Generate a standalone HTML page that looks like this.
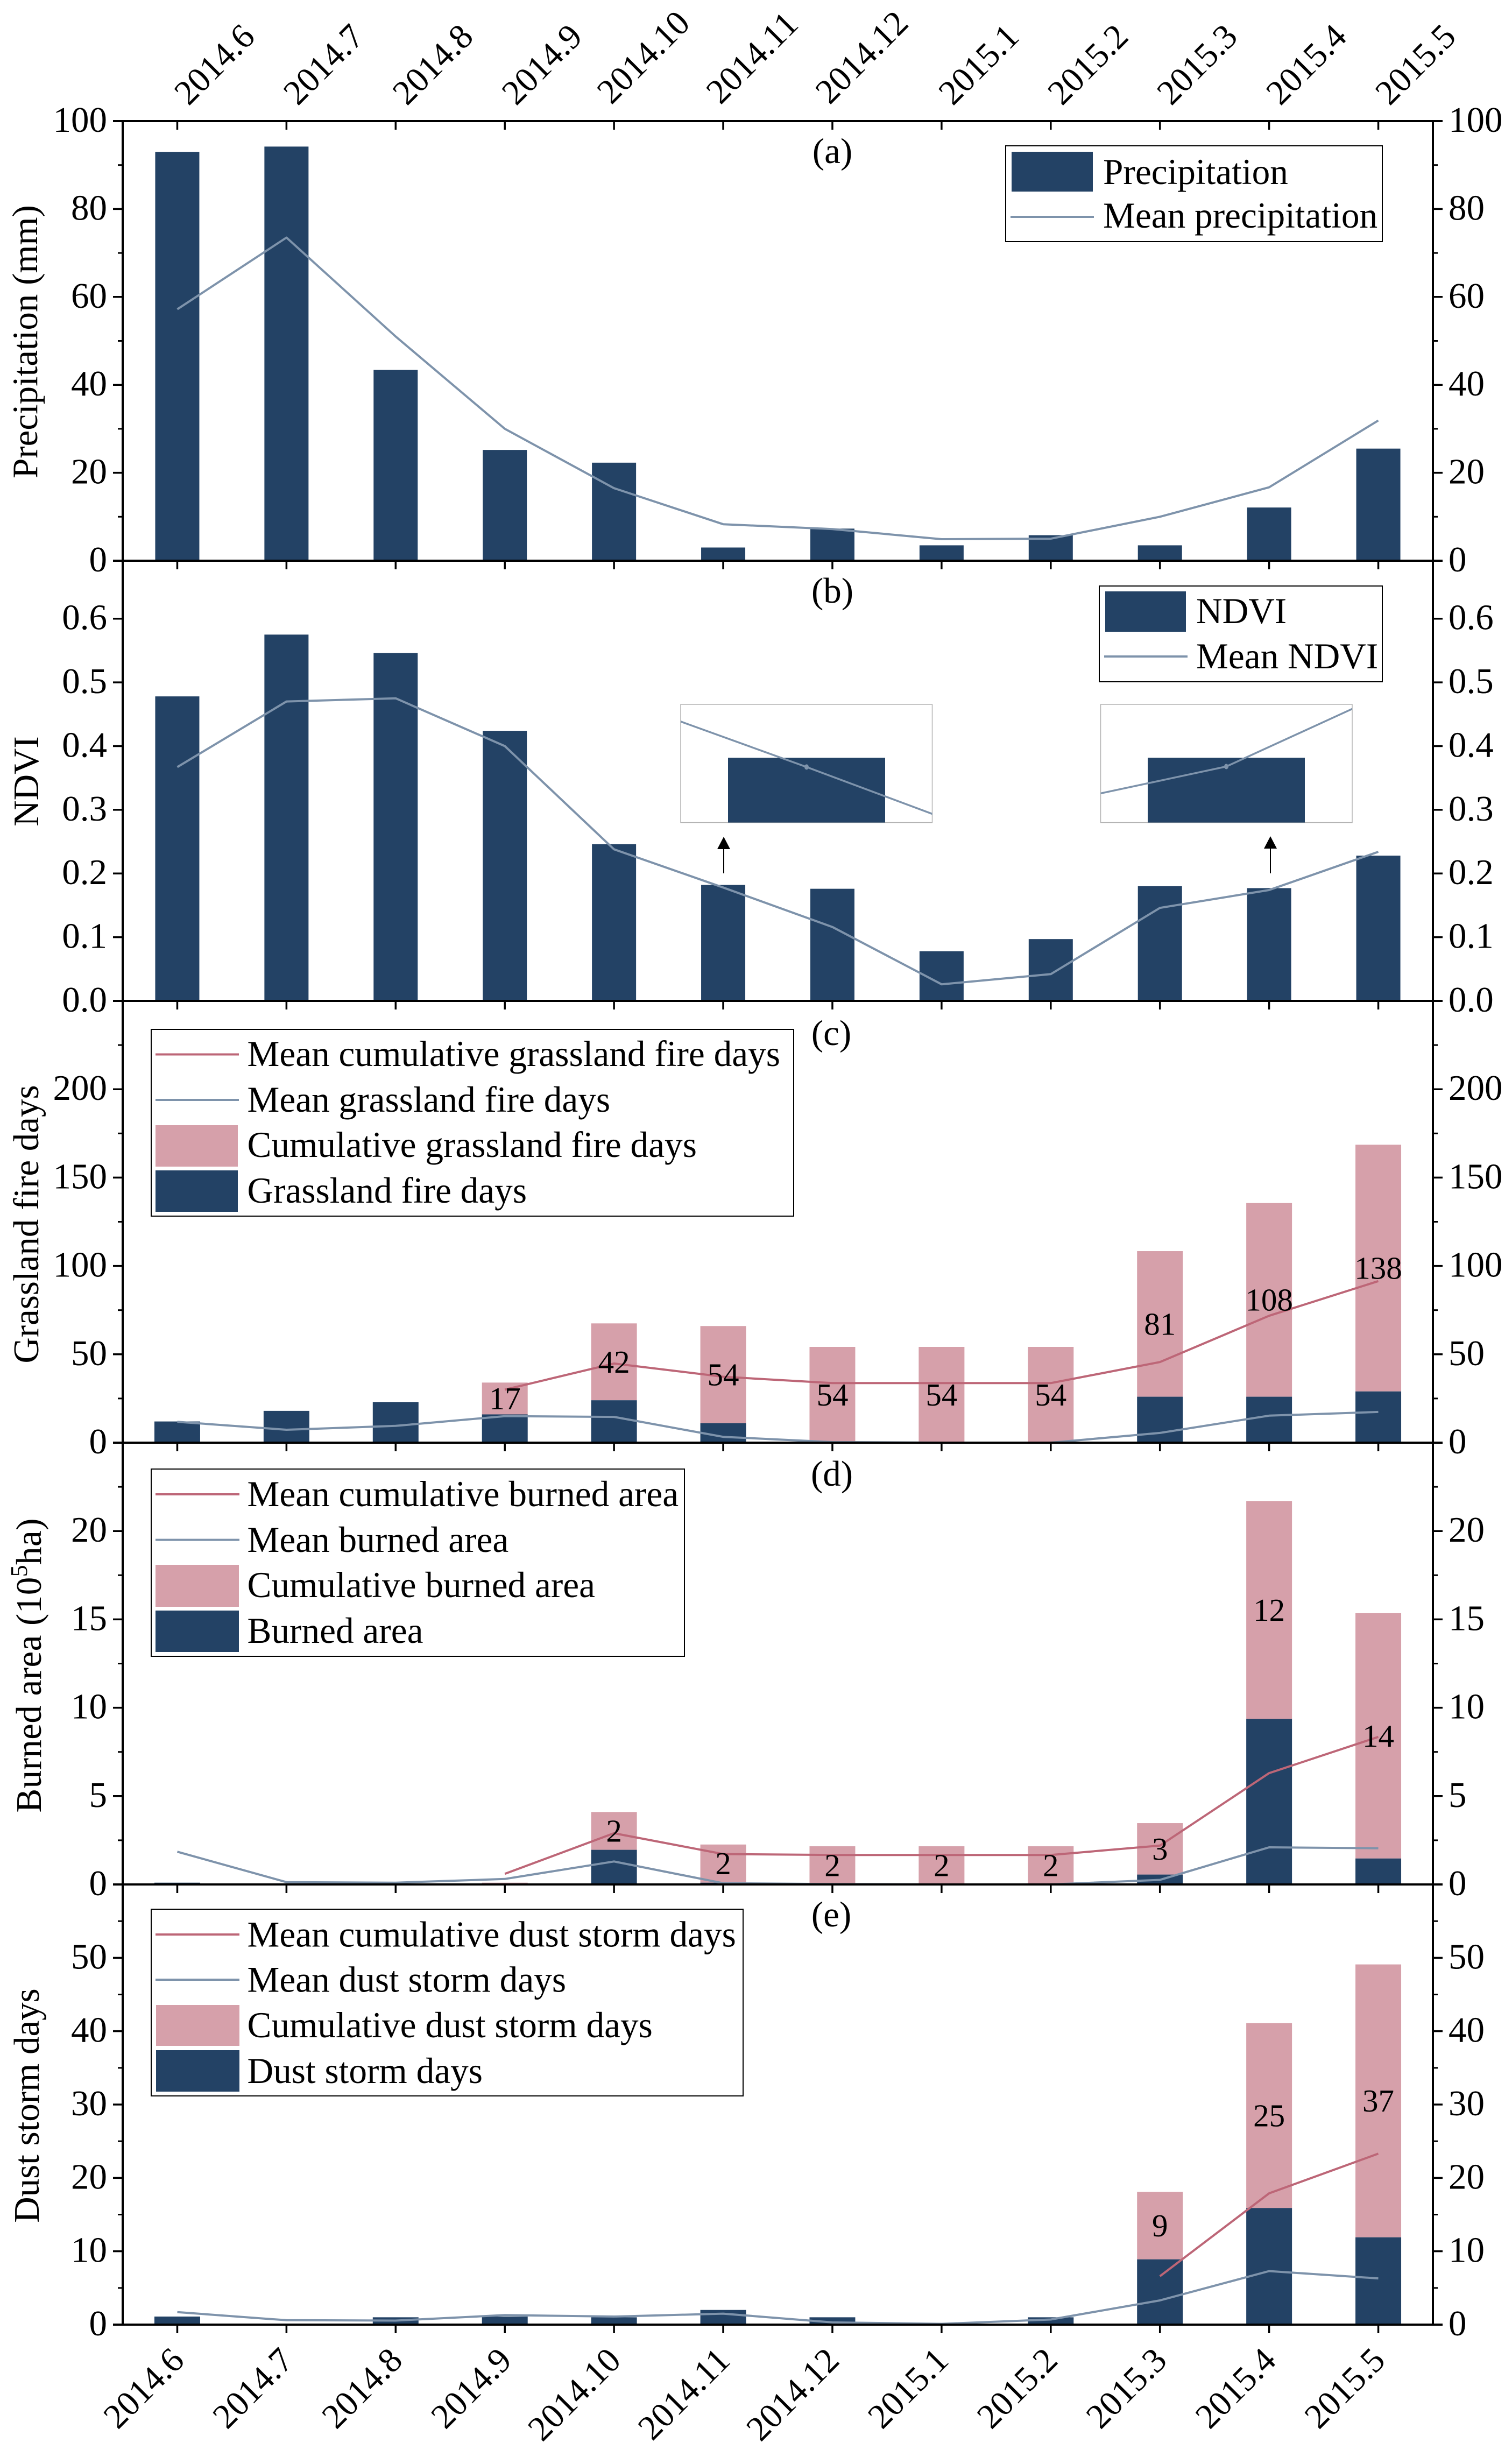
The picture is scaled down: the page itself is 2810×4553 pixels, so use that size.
<!DOCTYPE html>
<html lang="en">
<head>
<meta charset="utf-8">
<title>Monthly precipitation, NDVI, grassland fire, burned area and dust storm charts</title>
<style>
html,body{margin:0;padding:0;background:#fff;}
svg{display:block;}
text{font-family:"Liberation Serif",serif;fill:#000;}
</style>
</head>
<body>
<svg id="chart" xmlns="http://www.w3.org/2000/svg" width="2810" height="4553" viewBox="0 0 2810 4553">
  <rect x="0" y="0" width="2810" height="4553" fill="#fff"/>
  <g id="panel-a"></g>
  <g id="panel-b"></g>
  <g id="panel-c"></g>
  <g id="panel-d"></g>
  <g id="panel-e"></g>
  <g id="insets"></g>
  <g id="axes"></g>

  <g font-size="67">
    <text transform="translate(69 635) rotate(-90)" text-anchor="middle">Precipitation (mm)</text>
    <text transform="translate(71 1452) rotate(-90)" text-anchor="middle">NDVI</text>
    <text transform="translate(71 2275) rotate(-90)" text-anchor="middle">Grassland fire days</text>
    <text transform="translate(76 3095) rotate(-90)" text-anchor="middle" textLength="547">Burned area (10<tspan font-size="44" dy="-26">5</tspan><tspan dy="26">ha)</tspan></text>
    <text transform="translate(72 3913) rotate(-90)" text-anchor="middle">Dust storm days</text>
  </g>

  <g font-size="67" text-anchor="middle">
    <text x="1547" y="303">(a)</text>
    <text x="1547" y="1120">(b)</text>
    <text x="1545" y="1942">(c)</text>
    <text x="1546" y="2761">(d)</text>
    <text x="1545" y="3580">(e)</text>
  </g>

  <g>
    <line x1="1345" y1="1623" x2="1345" y2="1570" stroke="#000" stroke-width="2"/>
    <polygon points="1345,1555 1357,1578 1333,1578" fill="#000"/>
  </g>
  <g>
    <line x1="2361" y1="1623" x2="2361" y2="1570" stroke="#000" stroke-width="2"/>
    <polygon points="2361,1554 2373,1577 2349,1577" fill="#000"/>
  </g>

  <g font-size="67.3">
    <rect x="1869" y="271" width="700" height="178" fill="#fff" stroke="#000" stroke-width="2"/>
    <rect x="1880" y="282" width="151" height="74" fill="#234265"/>
    <text x="2050" y="342">Precipitation</text>
    <line x1="1878" y1="403" x2="2033" y2="403" stroke="#7e93ab" stroke-width="4"/>
    <text x="2050" y="423">Mean precipitation</text>
  </g>

  <g font-size="67.3">
    <rect x="2043" y="1089" width="526" height="178" fill="#fff" stroke="#000" stroke-width="2"/>
    <rect x="2054" y="1099" width="150" height="75" fill="#234265"/>
    <text x="2223" y="1158">NDVI</text>
    <line x1="2052" y1="1220" x2="2207" y2="1220" stroke="#7e93ab" stroke-width="4"/>
    <text x="2223" y="1242">Mean NDVI</text>
  </g>

  <g font-size="67.3">
    <rect x="281" y="1913" width="1194" height="347" fill="#fff" stroke="#000" stroke-width="2"/>
    <line x1="289" y1="1959.5" x2="444" y2="1959.5" stroke="#bd6677" stroke-width="4"/>
    <text x="459.5" y="1981">Mean cumulative grassland fire days</text>
    <line x1="289" y1="2044" x2="444" y2="2044" stroke="#7e93ab" stroke-width="4"/>
    <text x="459.5" y="2066">Mean grassland fire days</text>
    <rect x="289" y="2091" width="153" height="77" fill="#d6a0aa"/>
    <text x="459.5" y="2150">Cumulative grassland fire days</text>
    <rect x="289" y="2175" width="153" height="77" fill="#234265"/>
    <text x="459.5" y="2235">Grassland fire days</text>
  </g>

  <g font-size="67.3">
    <rect x="281" y="2730" width="991" height="348" fill="#fff" stroke="#000" stroke-width="2"/>
    <line x1="289" y1="2777" x2="445" y2="2777" stroke="#bd6677" stroke-width="4"/>
    <text x="459.5" y="2799">Mean cumulative burned area</text>
    <line x1="289" y1="2861.6" x2="445" y2="2861.6" stroke="#7e93ab" stroke-width="4"/>
    <text x="459.5" y="2884">Mean burned area</text>
    <rect x="289" y="2908" width="155" height="78" fill="#d6a0aa"/>
    <text x="459.5" y="2968">Cumulative burned area</text>
    <rect x="289" y="2993" width="155" height="77" fill="#234265"/>
    <text x="459.5" y="3053">Burned area</text>
  </g>

  <g font-size="67.3">
    <rect x="281" y="3548" width="1100" height="347" fill="#fff" stroke="#000" stroke-width="2"/>
    <line x1="289" y1="3595" x2="445" y2="3595" stroke="#bd6677" stroke-width="4"/>
    <text x="459.5" y="3617.5">Mean cumulative dust storm days</text>
    <line x1="289" y1="3679" x2="445" y2="3679" stroke="#7e93ab" stroke-width="4"/>
    <text x="459.5" y="3701.5">Mean dust storm days</text>
    <rect x="290" y="3726" width="155" height="76" fill="#d6a0aa"/>
    <text x="459.5" y="3786">Cumulative dust storm days</text>
    <rect x="290" y="3810" width="155" height="77" fill="#234265"/>
    <text x="459.5" y="3871">Dust storm days</text>
  </g>
</svg>

<script>
const categories = ['2014.6','2014.7','2014.8','2014.9','2014.10','2014.11','2014.12','2015.1','2015.2','2015.3','2015.4','2015.5'];

const precipValues = [93,94.2,43.4,25.2,22.3,3,7.3,3.5,5.8,3.5,12.1,25.5];
const precipMean = [57.2,73.5,51,30,16.5,8.3,7.2,4.9,5,10,16.7,31.9];
const precipTicks = ['0','20','40','60','80','100'];

const ndviValues = [0.478,0.575,0.546,0.424,0.246,0.182,0.176,0.078,0.097,0.18,0.177,0.228];
const ndviMean = [0.367,0.47,0.475,0.4,0.238,0.178,0.116,0.026,0.042,0.146,0.174,0.234];
const ndviTicks = ['0.0','0.1','0.2','0.3','0.4','0.5','0.6'];

const fireDays = [12,18,23,16,24,11,0,0,0,26,26,29];
const fireCumulative = [null,null,null,18,43.5,55,54.2,54.2,54.2,82.4,109.6,139.6];
const fireMean = [11.8,7.3,9.5,15,14.6,3.3,0.3,0,0,5.5,15.3,17.4];
const fireCumulativeMean = [null,null,null,30,44.8,37.3,33.7,33.7,33.7,45.6,71.8,91.4];
const fireLabels = [null,null,null,'17','42','54','54','54','54','81','108','138'];
const fireTicks = ['0','50','100','150','200'];

const burnedArea = [0.1,0.04,0.04,0,1.96,0.1,0,0,0,0.56,9.37,1.47];
const burnedCumulative = [null,null,null,0.1,2.14,2.16,2.16,2.16,2.16,2.91,12.33,13.88];
const burnedMean = [1.85,0.13,0.1,0.31,1.3,0.07,0.02,0,0,0.26,2.1,2.05];
const burnedCumulativeMean = [null,null,null,0.6,2.9,1.72,1.67,1.67,1.67,2.2,6.3,8.35];
const burnedLabels = [null,null,null,null,'2','2','2','2','2','3','12','14'];
const burnedTicks = ['0','5','10','15','20'];

const dustDays = [1.1,0,1,1.1,1,2,1,0,1,8.9,15.9,11.9];
const dustCumulative = [null,null,null,null,null,null,null,null,null,9.2,25.2,37.2];
const dustMean = [1.7,0.6,0.55,1.3,1.1,1.5,0.3,0.1,0.7,3.3,7.3,6.3];
const dustCumulativeMean = [null,null,null,null,null,null,null,null,null,6.6,17.9,23.3];
const dustLabels = [null,null,null,null,null,null,null,null,null,'9','25','37'];
const dustTicks = ['0','10','20','30','40','50'];

const NS = 'http://www.w3.org/2000/svg';
const NAVY = '#234265', PINK = '#d6a0aa', GREY = '#7e93ab', RED = '#bd6677';
const LEFT = 228, RIGHT = 2663;

function mk(tag, attrs, parent) {
  const el = document.createElementNS(NS, tag);
  for (const k in attrs) el.setAttribute(k, attrs[k]);
  parent.appendChild(el);
  return el;
}
function xPos(i) { return LEFT + (i + 0.5) * (RIGHT - LEFT) / categories.length; }
function yScale(top, bottom, max) { return v => bottom - (v / max) * (bottom - top); }
function linePath(values, xf, yf) {
  let d = '', pen = false;
  values.forEach((v, i) => {
    if (v === null) { pen = false; return; }
    d += (pen ? 'L' : 'M') + xf(i).toFixed(1) + ' ' + yf(v).toFixed(1);
    pen = true;
  });
  return d;
}
function drawBars(g, base, stack, yf, barW) {
  base.forEach((v, i) => {
    if (stack && stack[i] !== null) {
      const pink = mk('rect', {x: xPos(i) - barW / 2, y: yf(v + stack[i]), width: barW, height: yf(v) - yf(v + stack[i]), fill: PINK}, g);
      
      
    }
    const bar = mk('rect', {x: xPos(i) - barW / 2, y: yf(v), width: barW, height: yf(0) - yf(v), fill: NAVY}, g);
    
    
  });
}
function drawLine(g, values, color, yf) {
  const p = mk('path', {d: linePath(values, xPos, yf), fill: 'none', stroke: color, 'stroke-width': 4, 'stroke-linejoin': 'round'}, g);
  
  
}
function drawValueLabels(g, labels, base, stack, yf) {
  labels.forEach((s, i) => {
    if (s === null) return;
    const t = mk('text', {x: xPos(i), y: yf(base[i] + stack[i] / 2) + 20, 'font-size': 59, 'text-anchor': 'middle'}, g);
    t.textContent = s;
    
    
  });
}

const panels = [
  {id:'panel-a', top:225, bottom:1042, max:100, major:20, minor:10, barW:82, labels:precipTicks, base:precipValues, mean:precipMean},
  {id:'panel-b', top:1042, bottom:1860, max:0.691, major:0.1, minor:0, barW:82, labels:ndviTicks, base:ndviValues, mean:ndviMean},
  {id:'panel-c', top:1860, bottom:2681, max:250, major:50, minor:25, barW:85, labels:fireTicks, base:fireDays, stack:fireCumulative, mean:fireMean, cumMean:fireCumulativeMean, values:fireLabels},
  {id:'panel-d', top:2681, bottom:3502, max:25, major:5, minor:2.5, barW:85, labels:burnedTicks, base:burnedArea, stack:burnedCumulative, mean:burnedMean, cumMean:burnedCumulativeMean, values:burnedLabels},
  {id:'panel-e', top:3502, bottom:4320, max:60, major:10, minor:5, barW:85, labels:dustTicks, base:dustDays, stack:dustCumulative, mean:dustMean, cumMean:dustCumulativeMean, values:dustLabels}
];

const axes = document.getElementById('axes');

panels.forEach(p => {
  const g = document.getElementById(p.id);
  const y = yScale(p.top, p.bottom, p.max);
  drawBars(g, p.base, p.stack, y, p.barW);
  if (p.cumMean) drawLine(g, p.cumMean, RED, y);
  drawLine(g, p.mean, GREY, y);
  if (p.values) drawValueLabels(g, p.values, p.base, p.stack, y);

  if (p.minor) {
    for (let k = 1; k * p.minor < p.max + 1e-9; k += 2) {
      const yy = y(k * p.minor);
      const m1 = mk('line', {x1: LEFT - 9, x2: LEFT, y1: yy, y2: yy, stroke: '#000', 'stroke-width': 3}, axes);
      
      
      const m2 = mk('line', {x1: RIGHT, x2: RIGHT + 9, y1: yy, y2: yy, stroke: '#000', 'stroke-width': 3}, axes);
      
      
    }
  }
  p.labels.forEach((lab, k) => {
    const yy = y(k * p.major);
    const t1 = mk('line', {x1: LEFT - 18, x2: LEFT, y1: yy, y2: yy, stroke: '#000', 'stroke-width': 3.5}, axes);
    
    
    const t2 = mk('line', {x1: RIGHT, x2: RIGHT + 18, y1: yy, y2: yy, stroke: '#000', 'stroke-width': 3.5}, axes);
    
    
    const l1 = mk('text', {x: 199, y: yy + 20, 'font-size': 67, 'text-anchor': 'end'}, axes);
    l1.textContent = lab;
    
    
    const l2 = mk('text', {x: 2692, y: yy + 20, 'font-size': 67}, axes);
    l2.textContent = lab;
    
    
  });
});

/* horizontal axis lines with their downward ticks */
[225, 1042, 1860, 2681, 3502, 4320].forEach(yy => {
  const h = mk('line', {x1: LEFT - 18, x2: RIGHT + 18, y1: yy, y2: yy, stroke: '#000', 'stroke-width': 4}, axes);
  
  
  categories.forEach((c, i) => {
    const t = mk('line', {x1: xPos(i), x2: xPos(i), y1: yy, y2: yy + 16, stroke: '#000', 'stroke-width': 3.5}, axes);
    
    
  });
});

const axisL = mk('line', {x1: LEFT, x2: LEFT, y1: 223, y2: 4322, stroke: '#000', 'stroke-width': 4}, axes);


const axisR = mk('line', {x1: RIGHT, x2: RIGHT, y1: 223, y2: 4322, stroke: '#000', 'stroke-width': 4}, axes);



categories.forEach((c, i) => {
  const longLabel = c.length > 6;
  const tx = xPos(i) + (longLabel ? -5 : 21), ty = longLabel ? 196 : 198;
  const top = mk('text', {x: tx, y: ty, 'font-size': 65, transform: 'rotate(-45 ' + tx + ' ' + ty + ')'}, axes);
  top.textContent = c;
  
  
  const bx = xPos(i) + 16, by = 4390;
  const bot = mk('text', {x: bx, y: by, 'font-size': 65, 'text-anchor': 'end', transform: 'rotate(-45 ' + bx + ' ' + by + ')'}, axes);
  bot.textContent = c;
  
  
});

/* NDVI zoom insets, drawn from the same NDVI arrays through inset scales */
function drawInset(cfg, clipId) {
  const root = document.getElementById('insets');
  const g = mk('g', {}, root);
  
  
  const defs = mk('defs', {}, g);
  const clip = mk('clipPath', {id: clipId}, defs);
  mk('rect', {x: cfg.x0, y: cfg.y0, width: cfg.x1 - cfg.x0, height: cfg.y1 - cfg.y0}, clip);
  const ix = i => cfg.cx + (xPos(i) - xPos(cfg.tick)) * 3.52;
  const iy = v => cfg.y1 - (v - cfg.base) * cfg.scale;
  const frame = mk('rect', {x: cfg.x0, y: cfg.y0, width: cfg.x1 - cfg.x0, height: cfg.y1 - cfg.y0, fill: '#fff', stroke: '#b4b4b4', 'stroke-width': 1.5}, g);
  
  
  const bar = mk('rect', {x: cfg.cx - 146, y: iy(ndviValues[cfg.tick]), width: 292, height: cfg.y1 - iy(ndviValues[cfg.tick]), fill: NAVY}, g);
  
  
  const line = mk('path', {d: linePath(ndviMean, ix, iy), fill: 'none', stroke: GREY, 'stroke-width': 3.5, 'clip-path': 'url(#' + clipId + ')'}, g);
  
  
  const dot = mk('ellipse', {cx: ix(cfg.tick), cy: iy(ndviMean[cfg.tick]), rx: 4, ry: 5, fill: GREY}, g);
  
  
}
drawInset({x0: 1265, x1: 1732.5, y0: 1309, y1: 1528.6, cx: 1499, tick: 5, base: 0.154, scale: 4300}, 'inset-clip-a');
drawInset({x0: 2045.5, x1: 2513, y0: 1309, y1: 1528.6, cx: 2279, tick: 10, base: 0.1549, scale: 5450}, 'inset-clip-b');
</script>
</body>
</html>
